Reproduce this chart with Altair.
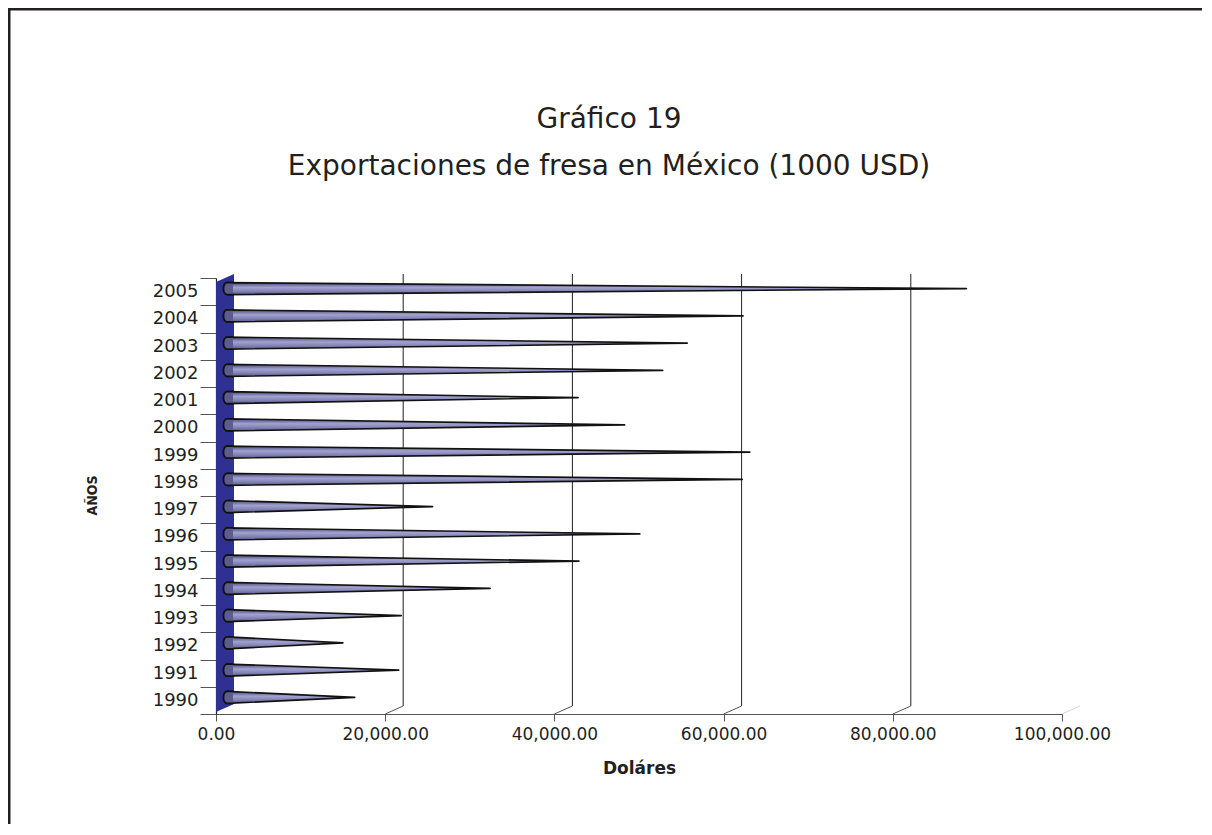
import altair as alt
import pandas as pd

# ---------------- data ----------------
years = list(range(1990, 2006))
values = [15100, 20300, 13700, 20600, 31100, 41600, 48800, 24300,
          60900, 61800, 47000, 41500, 51500, 54400, 61000, 87400]
x_ticks = [0, 20000, 40000, 60000, 80000, 100000]
grid_vals = [20000, 40000, 60000, 80000]
title_lines = ["Gráfico 19", "Exportaciones de fresa en México (1000 USD)"]
x_title = "Doláres"
y_title = "AÑOS"

# ---------------- geometry / style constants ----------------
W, H = 846, 436
XMAX = 100000
Y0, Y1 = 1989.5, 2005.5
DX, DY = 18, 8                 # 3-D depth in px
ux = XMAX / W                  # data units per px (x)
uy = (Y1 - Y0) / H             # data units per px (y)
HALF = 6 * uy                  # half height of cone base
INK = "#231f20"
FONT = "DejaVu Sans"

cone_rows = []
for yr, v in zip(years, values):
    cone_rows.append({"year": yr, "x": 0, "y": yr - HALF, "y2": yr + HALF})
    cone_rows.append({"year": yr, "x": v, "y": yr, "y2": yr})
cones_df = pd.DataFrame(cone_rows)
caps_df = pd.DataFrame({"year": years, "x": [0] * len(years), "y": years})

wall_df = pd.DataFrame({
    "x": [0, DX * ux],
    "y": [Y0 + 2 * uy, Y0 + (2 + DY) * uy],
    "y2": [Y1 - 4 * uy, Y1 + (DY - 4) * uy],
})
grid_df = pd.DataFrame({"x": grid_vals})
slant_df = pd.DataFrame({"x": x_ticks[1:]})

y_vals = [Y0 + 0.5 * i for i in range(int((Y1 - Y0) * 2) + 1)]

x_scale = alt.Scale(domain=[0, XMAX], nice=False, zero=False)
y_scale = alt.Scale(domain=[Y0, Y1], nice=False, zero=False)

x_axis = alt.Axis(
    values=x_ticks, format=",.2f", title=x_title, grid=False,
    domainColor="#555555", domainWidth=1.2, tickColor="#555555", tickSize=7,
    labelFont=FONT, labelFontSize=17, labelColor=INK, labelPadding=5,
    labelFlush=False, labelOverlap=False, labelBound=False,
    titleFont=FONT, titleFontSize=17, titleFontWeight="bold", titleColor=INK,
    titleBaseline="alphabetic", titleY=59,
)
y_axis = alt.Axis(
    values=y_vals, grid=False, title=y_title,
    labelExpr="datum.value % 1 === 0 ? '' + datum.value : ''",
    tickOpacity={"condition": {"test": "datum.value % 1 === 0", "value": 0}, "value": 1},
    domainColor=INK, domainWidth=1.2, tickColor="#555555", tickSize=16,
    labelFont=FONT, labelFontSize=18, labelColor=INK, labelPadding=2,
    labelOverlap=False, labelBound=False, labelFlush=False,
    titleFont="DejaVu Sans Condensed", titleFontSize=14, titleFontWeight="bold",
    titleColor=INK, titleX=-124, titleY=217, titleAngle=270,
    titleAlign="center", titleBaseline="middle",
)

X = lambda f: alt.X(f, type="quantitative", scale=x_scale, axis=x_axis)
Y = lambda f: alt.Y(f, type="quantitative", scale=y_scale, axis=y_axis)

one = alt.Data(values=[{}])

# frame (left and top edges of the figure box)
frame_left = alt.Chart(one).mark_rule(color=INK, strokeWidth=2.5).encode(
    x=alt.value(-206.75), y=alt.value(-270), y2=alt.value(H + 110))
frame_top = alt.Chart(one).mark_rule(color=INK, strokeWidth=2.5).encode(
    y=alt.value(-268.75), x=alt.value(-208), x2=alt.value(W + 140))

wall = alt.Chart(wall_df).mark_area(color="#2e3192", orient="vertical").encode(
    x=X("x"), y=Y("y"), y2="y2")

grid = alt.Chart(grid_df).mark_rule(color=INK, strokeWidth=1, xOffset=DX,
                                    yOffset=-4, y2Offset=-DY).encode(
    x=X("x"), y=alt.datum(Y1, scale=y_scale, axis=y_axis), y2=alt.datum(Y0))

slants = alt.Chart(slant_df).mark_rule(color="#555555", strokeWidth=1,
                                       x2Offset=DX, y2Offset=-DY).encode(
    x=X("x"), x2="x", y=alt.datum(Y0, scale=y_scale, axis=y_axis), y2=alt.datum(Y0),
    opacity=alt.condition(alt.datum.x >= XMAX, alt.value(0.25), alt.value(1)))

cone_fill = alt.LinearGradient(
    gradient="linear", x1=0, y1=0, x2=0, y2=1,
    stops=[alt.GradientStop(color="#48487a", offset=0),
           alt.GradientStop(color="#a2a2d0", offset=0.4),
           alt.GradientStop(color="#8485b5", offset=0.7),
           alt.GradientStop(color="#5a5a8a", offset=1)])

cones = alt.Chart(cones_df).mark_area(
    fill=cone_fill, stroke="#111111", strokeWidth=1.6, strokeJoin="round",
    orient="vertical", xOffset=11, yOffset=-3, y2Offset=-3).encode(
    x=X("x"), y=Y("y"), y2="y2", detail="year:N")

caps = alt.Chart(caps_df).mark_point(
    shape="M 1 -1 L 0 -1 A 0.6 1 0 0 0 0 1 L 1 1",
    filled=True, fill="#5c5c8e", stroke="#111111", strokeWidth=1.9,
    size=144, opacity=1, xOffset=11, yOffset=-3).encode(
    x=X("x"), y=Y("y"))

t1 = alt.Chart(one).mark_text(font=FONT, fontSize=28, color=INK, align="center",
                              baseline="middle").encode(
    x=alt.value(393), y=alt.value(-158), text=alt.value(title_lines[0]))
t2 = alt.Chart(one).mark_text(font=FONT, fontSize=28, color=INK, align="center",
                              baseline="middle").encode(
    x=alt.value(393), y=alt.value(-111), text=alt.value(title_lines[1]))

chart = alt.layer(frame_left, frame_top, wall, grid, slants, cones, caps, t1, t2).properties(
    width=W, height=H,
    autosize=alt.AutoSizeParams(type="none"),
    padding={"left": 208, "top": 270, "right": 140, "bottom": 110},
).configure_view(stroke=None)

chart.save("out.html", embed_options={"renderer": "svg", "actions": False})
